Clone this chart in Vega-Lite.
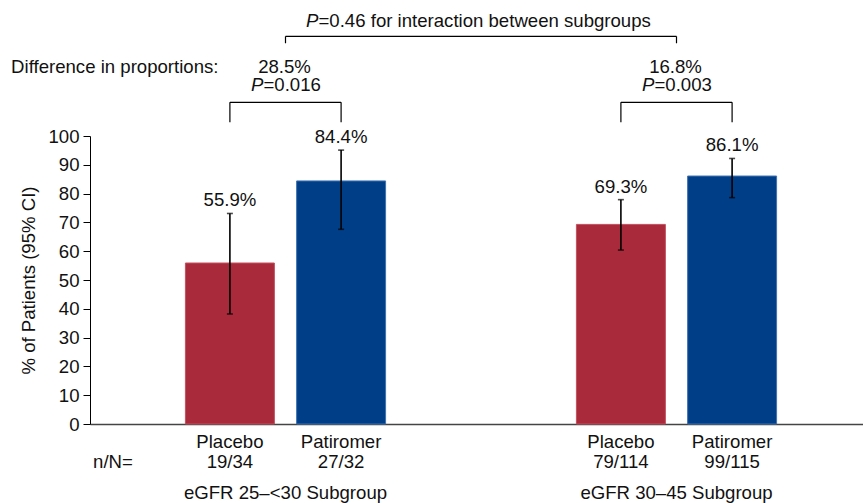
{
  "$schema": "https://vega.github.io/schema/vega-lite/v6.json",
  "width": 773,
  "height": 288,
  "autosize": {"type": "none"},
  "padding": {"left": 90, "top": 136, "right": 0, "bottom": 79},
  "background": "#ffffff",
  "config": {
    "view": {"stroke": null},
    "font": "Liberation Sans",
    "axis": {"labelFont": "Liberation Sans", "labelFontSize": 18.6, "labelColor": "#111111", "titleFont": "Liberation Sans", "titleFontSize": 18.6, "titleFontWeight": "normal", "titleColor": "#111111", "grid": false, "labelLimit": 400},
    "axisY": {"tickCount": 11, "labelOverlap": false, "tickSize": 7, "labelPadding": 4, "titlePadding": 9, "domainColor": "#000000", "tickColor": "#000000"},
    "axisX": {"ticks": false, "tickSize": 0, "labelPadding": 59, "labelAngle": 0, "domainColor": "#444444", "domainWidth": 1.5},
    "text": {"font": "Liberation Sans", "fontSize": 18.6, "color": "#111111", "baseline": "alphabetic"}
  },
  "datasets": {
    "bars": [
      {"subgroup": "eGFR 25–<30 Subgroup", "treatment": "Placebo", "pct": 55.9, "lo": 38.2, "hi": 73.1, "nN": "19/34"},
      {"subgroup": "eGFR 25–<30 Subgroup", "treatment": "Patiromer", "pct": 84.4, "lo": 67.6, "hi": 95.1, "nN": "27/32"},
      {"subgroup": "eGFR 30–45 Subgroup", "treatment": "Placebo", "pct": 69.3, "lo": 60.4, "hi": 77.9, "nN": "79/114"},
      {"subgroup": "eGFR 30–45 Subgroup", "treatment": "Patiromer", "pct": 86.1, "lo": 78.6, "hi": 92.2, "nN": "99/115"}
    ],
    "groups": [
      {"subgroup": "eGFR 25–<30 Subgroup", "diff": "28.5%", "p": "=0.016"},
      {"subgroup": "eGFR 30–45 Subgroup", "diff": "16.8%", "p": "=0.003"}
    ]
  },
  "data": {"name": "bars"},
  "encoding": {
    "x": {
      "field": "subgroup", "type": "nominal", "sort": null, "title": null,
      "scale": {"domain": ["eGFR 25–<30 Subgroup", "eGFR 30–45 Subgroup"], "range": [0, 782], "paddingInner": 0, "paddingOuter": 0}
    }
  },
  "layer": [
    {
      "mark": {"type": "bar", "strokeWidth": 1},
      "encoding": {
        "xOffset": {"field": "treatment", "type": "nominal", "sort": ["Placebo", "Patiromer"], "scale": {"domain": ["Placebo", "Patiromer"], "paddingInner": 0.2, "paddingOuter": 0.858}},
        "y": {"field": "pct", "type": "quantitative", "scale": {"domain": [0, 100], "nice": false}, "title": "% of Patients (95% CI)"},
        "color": {"field": "treatment", "type": "nominal", "scale": {"domain": ["Placebo", "Patiromer"], "range": ["#A82A3B", "#003F87"]}, "legend": null},
        "stroke": {"field": "treatment", "type": "nominal", "scale": {"domain": ["Placebo", "Patiromer"], "range": ["#C4505F", "#3F72B3"]}, "legend": null}
      }
    },
    {
      "mark": {"type": "rule", "color": "#000000", "strokeWidth": 1.6},
      "encoding": {
        "xOffset": {"field": "treatment", "type": "nominal", "sort": ["Placebo", "Patiromer"]},
        "y": {"field": "lo", "type": "quantitative", "scale": {"domain": [0, 100]}, "title": "% of Patients (95% CI)"},
        "y2": {"field": "hi"}
      }
    },
    {
      "mark": {"type": "tick", "orient": "horizontal", "size": 6, "thickness": 1.6, "color": "#000000"},
      "encoding": {
        "xOffset": {"field": "treatment", "type": "nominal", "sort": ["Placebo", "Patiromer"]},
        "y": {"field": "lo", "type": "quantitative", "scale": {"domain": [0, 100]}, "title": "% of Patients (95% CI)"}
      }
    },
    {
      "mark": {"type": "tick", "orient": "horizontal", "size": 6, "thickness": 1.6, "color": "#000000"},
      "encoding": {
        "xOffset": {"field": "treatment", "type": "nominal", "sort": ["Placebo", "Patiromer"]},
        "y": {"field": "hi", "type": "quantitative", "scale": {"domain": [0, 100]}, "title": "% of Patients (95% CI)"}
      }
    },
    {
      "transform": [{"calculate": "format(datum.pct, '.1f') + '%'", "as": "label"}],
      "mark": {"type": "text", "dy": -7},
      "encoding": {
        "xOffset": {"field": "treatment", "type": "nominal", "sort": ["Placebo", "Patiromer"]},
        "y": {"field": "hi", "type": "quantitative", "scale": {"domain": [0, 100]}, "title": "% of Patients (95% CI)"},
        "text": {"field": "label"}
      }
    },
    {
      "mark": {"type": "text", "dy": 24},
      "encoding": {
        "xOffset": {"field": "treatment", "type": "nominal", "sort": ["Placebo", "Patiromer"]},
        "y": {"datum": 0, "type": "quantitative", "scale": {"domain": [0, 100]}, "title": "% of Patients (95% CI)"},
        "text": {"field": "treatment"}
      }
    },
    {
      "mark": {"type": "text", "dy": 44},
      "encoding": {
        "xOffset": {"field": "treatment", "type": "nominal", "sort": ["Placebo", "Patiromer"]},
        "y": {"datum": 0, "type": "quantitative", "scale": {"domain": [0, 100]}, "title": "% of Patients (95% CI)"},
        "text": {"field": "nN"}
      }
    },
    {
      "data": {"values": [{}]},
      "mark": {"type": "text", "text": "n/N=", "align": "right", "dy": 44, "dx": -97},
      "encoding": {
        "x": {"datum": "eGFR 25–<30 Subgroup", "type": "nominal", "title": null},
        "xOffset": {"datum": "Placebo", "type": "nominal"},
        "y": {"datum": 0, "type": "quantitative", "scale": {"domain": [0, 100]}, "title": "% of Patients (95% CI)"}
      }
    },
    {
      "mark": {"type": "rule", "color": "#000000", "strokeWidth": 1.2},
      "encoding": {
        "xOffset": {"field": "treatment", "type": "nominal", "sort": ["Placebo", "Patiromer"]},
        "y": {"datum": 104.8, "type": "quantitative", "scale": {"domain": [0, 100]}, "title": "% of Patients (95% CI)"},
        "y2": {"datum": 111.7}
      }
    },
    {
      "mark": {"type": "line", "color": "#000000", "strokeWidth": 1.2},
      "encoding": {
        "xOffset": {"field": "treatment", "type": "nominal", "sort": ["Placebo", "Patiromer"]},
        "y": {"datum": 111.7, "type": "quantitative", "scale": {"domain": [0, 100]}, "title": "% of Patients (95% CI)"},
        "detail": {"field": "subgroup"}
      }
    },
    {
      "data": {"name": "groups"},
      "mark": {"type": "rule", "color": "#000000", "strokeWidth": 1.2},
      "encoding": {
        "y": {"datum": 132.2, "type": "quantitative", "scale": {"domain": [0, 100]}, "title": "% of Patients (95% CI)"},
        "y2": {"datum": 134.6}
      }
    },
    {
      "data": {"name": "groups"},
      "mark": {"type": "line", "color": "#000000", "strokeWidth": 1.2},
      "encoding": {
        "y": {"datum": 134.6, "type": "quantitative", "scale": {"domain": [0, 100]}, "title": "% of Patients (95% CI)"}
      }
    },
    {
      "data": {"name": "groups"},
      "mark": {"type": "text", "dx": -1},
      "encoding": {
        "y": {"datum": 122.0, "type": "quantitative", "scale": {"domain": [0, 100]}, "title": "% of Patients (95% CI)"},
        "text": {"field": "diff"}
      }
    },
    {
      "data": {"name": "groups"},
      "mark": {"type": "text", "text": "P", "fontStyle": "italic", "align": "right", "dx": -22},
      "encoding": {
        "y": {"datum": 115.6, "type": "quantitative", "scale": {"domain": [0, 100]}, "title": "% of Patients (95% CI)"}
      }
    },
    {
      "data": {"name": "groups"},
      "mark": {"type": "text", "align": "left", "dx": -22},
      "encoding": {
        "y": {"datum": 115.6, "type": "quantitative", "scale": {"domain": [0, 100]}, "title": "% of Patients (95% CI)"},
        "text": {"field": "p"}
      }
    },
    {
      "data": {"values": [{}]},
      "mark": {"type": "text", "text": "Difference in proportions:", "align": "right", "dx": -67},
      "encoding": {
        "x": {"datum": "eGFR 25–<30 Subgroup", "type": "nominal", "title": null},
        "y": {"datum": 122.0, "type": "quantitative", "scale": {"domain": [0, 100]}, "title": "% of Patients (95% CI)"}
      }
    },
    {
      "data": {"values": [{}]},
      "mark": {"type": "text", "text": "P", "fontStyle": "italic", "align": "right", "dx": 33},
      "encoding": {
        "x": {"datum": "eGFR 25–<30 Subgroup", "type": "nominal", "title": null},
        "y": {"datum": 137.7, "type": "quantitative", "scale": {"domain": [0, 100]}, "title": "% of Patients (95% CI)"}
      }
    },
    {
      "data": {"values": [{}]},
      "mark": {"type": "text", "text": "=0.46 for interaction between subgroups", "align": "left", "dx": 33},
      "encoding": {
        "x": {"datum": "eGFR 25–<30 Subgroup", "type": "nominal", "title": null},
        "y": {"datum": 137.7, "type": "quantitative", "scale": {"domain": [0, 100]}, "title": "% of Patients (95% CI)"}
      }
    }
  ]
}
